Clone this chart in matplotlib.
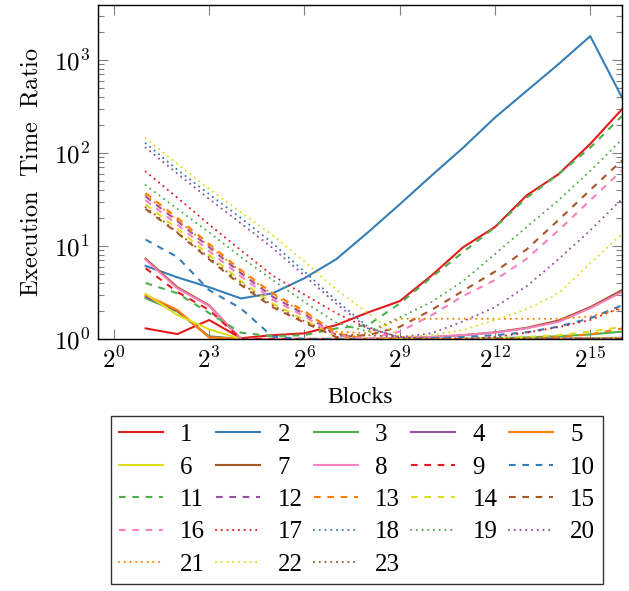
import matplotlib
matplotlib.use("Agg")
import matplotlib.pyplot as plt
import numpy as np
from matplotlib.ticker import FixedLocator, FuncFormatter, LogLocator, NullLocator

plt.rcParams["mathtext.fontset"] = "cm"
plt.rcParams["font.family"] = ["Liberation Serif", "DejaVu Serif"]

# x: number of blocks (2^1 .. 2^16)
blocks = [2, 4, 8, 16, 32, 64, 128, 256, 512, 1024, 2048, 4096, 8192, 16384, 32768, 65536]

# execution time ratio per configuration
s1 = [1.30, 1.13, 1.60, 1.02, 1.10, 1.15, 1.41, 1.93, 2.55, 4.8, 9.7, 16, 35, 59, 125, 295]
s2 = [6.1, 4.6, 3.6, 2.73, 3.1, 4.5, 7.2, 14, 28, 57, 114, 240, 465, 900, 1800, 394]
s3 = [2.74, 1.97, 1.07, 1.0, 1.0, 1.0, 1.0, 1.0, 1.0, 1.0, 1.0, 1.02, 1.04, 1.07, 1.12, 1.2]
s4 = [2.85, 2.0, 1.05, 1.0, 1.0, 1.0, 1.0, 1.0, 1.0, 1.0, 1.0, 1.0, 1.0, 1.01, 1.02, 1.03]
s5 = [2.97, 2.05, 1.04, 1.0, 1.0, 1.0, 1.0, 1.0, 1.0, 1.0, 1.0, 1.0, 1.0, 1.0, 1.01, 1.02]
s6 = [3.05, 1.81, 1.27, 1.0, 1.0, 1.0, 1.0, 1.0, 1.0, 1.0, 1.0, 1.0, 1.0, 1.0, 1.01, 1.01]
s7 = [7.3, 3.6, 2.3, 1.0, 1.0, 1.0, 1.0, 1.0, 1.02, 1.05, 1.1, 1.18, 1.32, 1.58, 2.2, 3.35]
s8 = [7.1, 3.5, 2.26, 1.0, 1.0, 1.0, 1.0, 1.0, 1.02, 1.05, 1.1, 1.17, 1.3, 1.53, 2.14, 3.2]
s9 = [5.75, 3.2, 2.05, 1.0, 1.0, 1.0, 1.0, 1.0, 1.0, 1.0, 1.0, 1.0, 1.0, 1.0, 1.0, 1.0]
s10 = [11.7, 7.6, 3.35, 2.13, 1.06, 1.0, 1.0, 1.0, 1.0, 1.02, 1.05, 1.1, 1.18, 1.36, 1.67, 2.3]
s11 = [4.0, 3.1, 1.9, 1.17, 1.07, 1.1, 1.3, 1.41, 2.4, 4.6, 8.6, 15.9, 33, 59, 114, 250]
s12 = [34, 18.5, 9.7, 5.1, 2.85, 1.85, 1.1, 1.0, 1.0, 1.0, 1.0, 1.0, 1.0, 1.0, 1.0, 1.0]
s13 = [37, 20, 10.5, 5.5, 3.1, 2.0, 1.15, 1.0, 1.0, 1.0, 1.0, 1.0, 1.02, 1.05, 1.12, 1.3]
s14 = [28, 15.3, 8.0, 4.2, 2.4, 1.6, 1.05, 1.0, 1.0, 1.0, 1.0, 1.02, 1.05, 1.1, 1.2, 1.35]
s15 = [25, 13.8, 7.2, 3.8, 2.2, 1.5, 1.05, 1.1, 1.35, 2.05, 3.3, 5.3, 9.2, 19, 40, 83]
s16 = [31, 17, 8.8, 4.7, 2.65, 1.75, 1.1, 1.0, 1.2, 1.8, 2.9, 4.3, 7.3, 14.7, 31, 65]
s17 = [63, 33, 17, 9.0, 4.8, 3.0, 1.9, 1.3, 1.05, 1.0, 1.0, 1.05, 1.17, 1.34, 1.6, 2.2]
s18 = [127, 66, 36, 20, 10.7, 5.3, 2.6, 1.35, 1.02, 1.02, 1.02, 1.02, 1.02, 1.02, 1.02, 1.02]
s19 = [45, 25, 14, 7.6, 4.3, 2.5, 1.5, 1.2, 1.7, 2.5, 4.2, 8.2, 16, 31, 64, 140]
s20 = [114, 60, 32, 17.5, 9.5, 4.8, 2.4, 1.3, 1.05, 1.15, 1.55, 2.2, 3.7, 7.2, 14.7, 32]
s21 = [35, 19, 10, 5.3, 3.0, 1.9, 1.2, 1.15, 1.65, 1.65, 1.65, 1.65, 1.65, 1.65, 1.75, 2.1]
s22 = [144, 76, 41, 23, 13, 6.8, 3.4, 1.9, 1.05, 1.1, 1.25, 1.6, 2.1, 3.1, 6.5, 13.5]
s23 = [26, 14, 7.5, 4.0, 2.3, 1.55, 1.12, 1.1, 1.05, 1.0, 1.0, 1.0, 1.0, 1.0, 1.0, 1.0]

series = [s1, s2, s3, s4, s5, s6, s7, s8, s9, s10, s11, s12,
          s13, s14, s15, s16, s17, s18, s19, s20, s21, s22, s23]
labels = [str(i) for i in range(1, 24)]

colors = ["#e41a1c", "#377eb8", "#4daf4a", "#984ea3",
          "#ff7f00", "#dede1f", "#a65628", "#f781bf"]
styles = ["-", (0, (3.2, 3.2)), (0, (0.05, 2.7))]

fig = plt.figure(figsize=(6.29, 5.91), dpi=100)
ax = fig.add_axes([98 / 629, 1 - 339 / 591, 524 / 629, 334 / 591])

lines = []
for i, (vals, lab) in enumerate(zip(series, labels)):
    ls = styles[i // 8]
    cap = "round" if i >= 16 else "butt"
    ln, = ax.plot(blocks, vals, color=colors[i % 8], linestyle=ls, linewidth=1.5,
                  label=lab, dash_capstyle=cap)
    lines.append(ln)

ax.set_xscale("log", base=2)
ax.set_yscale("log")
ax.set_xlim(2 ** -0.5, 2 ** 16)
ax.set_ylim(1, 10 ** 3.59)

ax.xaxis.set_major_locator(FixedLocator([2 ** e for e in range(0, 16, 3)]))
ax.xaxis.set_minor_locator(NullLocator())
ax.xaxis.set_major_formatter(FuncFormatter(lambda v, _: f"$2^{{{int(round(np.log2(v)))}}}$"))
ax.yaxis.set_major_locator(FixedLocator([1, 10, 100, 1000]))
ax.yaxis.set_minor_locator(LogLocator(base=10, subs=np.arange(2, 10)))
ax.yaxis.set_major_formatter(FuncFormatter(lambda v, _: f"$10^{{{int(round(np.log10(v)))}}}$"))

ax.tick_params(which="both", direction="in", top=True, right=True, color="0.5", width=0.8)
ax.tick_params(which="major", length=7, labelsize=18, pad=6)
ax.tick_params(which="minor", length=4.5)
for sp in ax.spines.values():
    sp.set_linewidth(1.0)

ax.set_ylabel(r"$\mathrm{Execution\ \ Time\ \ Ratio}$", fontsize=17.5, labelpad=8)
ax.set_xlabel("Blocks", fontsize=17, labelpad=10)

# legend filled row by row, 5 columns
ncol = 5
order = [j for c in range(ncol) for j in range(c, len(lines), ncol)]
leg = fig.legend([lines[j] for j in order], [labels[j] for j in order],
                 loc="upper center", bbox_to_anchor=(357 / 629, 1 - 416 / 591),
                 borderaxespad=0, ncol=ncol, fontsize=18, frameon=True, fancybox=False,
                 edgecolor="black", handlelength=1.75, handletextpad=0.7,
                 columnspacing=0.45, labelspacing=0.4, borderpad=0.3)
leg.get_frame().set_linewidth(1.0)

fig.savefig("out.png", dpi=100)
